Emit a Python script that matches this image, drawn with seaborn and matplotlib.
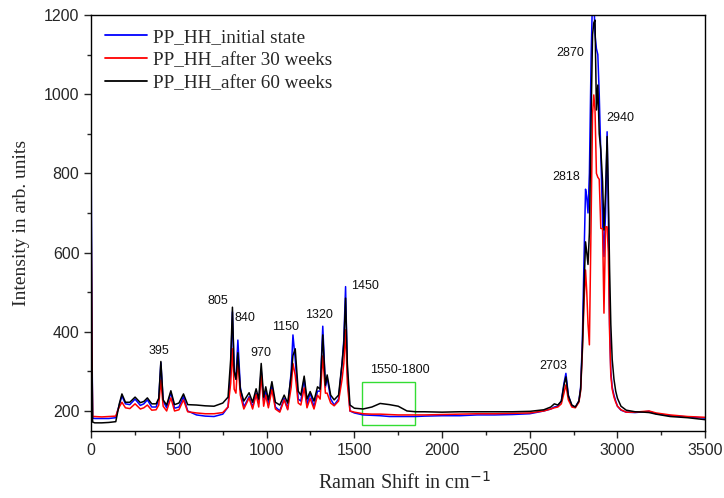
import numpy as np
import pandas as pd
import matplotlib
matplotlib.use("Agg")
import matplotlib.pyplot as plt
from matplotlib.patches import Rectangle
from matplotlib.ticker import MultipleLocator
import seaborn as sns

shift = [0, 4, 8, 20, 60, 100, 140, 150, 160, 175, 195, 220, 250, 280, 300, 320, 345, 370, 385, 397,
         410, 430, 454, 475, 500, 526, 550, 600, 650, 700, 750, 780, 795, 805, 815, 825, 836, 850, 870, 900,
         920, 940, 955, 969, 983, 995, 1010, 1030, 1050, 1075, 1100, 1120, 1140, 1150, 1163, 1180, 1195, 1214, 1230, 1248,
         1270, 1290, 1305, 1320, 1335, 1345, 1365, 1385, 1410, 1430, 1440, 1450, 1460, 1475, 1500, 1550, 1600, 1647, 1700, 1750,
         1800, 1850, 1900, 2000, 2100, 2200, 2300, 2400, 2500, 2580, 2620, 2640, 2660, 2680, 2695, 2706, 2720, 2740, 2760, 2780,
         2790, 2800, 2810, 2818, 2825, 2832, 2840, 2850, 2858, 2865, 2872, 2880, 2888, 2896, 2905, 2915, 2923, 2932, 2941, 2948,
         2955, 2962, 2970, 2980, 2990, 3000, 3020, 3050, 3100, 3150, 3180, 3220, 3300, 3400, 3500]

initial_state = [800, 400, 182, 181, 181, 181, 183, 200, 215, 238, 218, 216, 230, 214, 218, 228, 210, 210, 230, 322,
                 225, 208, 247, 207, 210, 236, 200, 190, 187, 186, 192, 210, 300, 450, 300, 280, 379, 260, 210, 236,
                 210, 245, 220, 303, 225, 250, 215, 265, 210, 200, 232, 205, 300, 392, 330, 230, 225, 282, 215, 246,
                 210, 250, 250, 414, 260, 285, 230, 215, 230, 320, 380, 514, 300, 200, 195, 190, 189, 188, 186, 186,
                 186, 186, 187, 188, 188, 190, 190, 191, 193, 200, 205, 210, 212, 225, 270, 295, 240, 212, 210, 225,
                 260, 380, 600, 760, 740, 700, 800, 1100, 1250, 1250, 1150, 1115, 1100, 1000, 850, 680, 590, 700, 905, 700,
                 420, 300, 260, 240, 225, 212, 202, 197, 196, 198, 199, 193, 188, 185, 182]

after_30_weeks = [640, 350, 186, 186, 185, 186, 187, 200, 210, 222, 208, 206, 218, 205, 208, 215, 202, 203, 215, 278,
                  212, 200, 233, 200, 203, 228, 198, 195, 193, 193, 196, 210, 270, 357, 255, 245, 329, 240, 205, 233,
                  205, 242, 210, 291, 212, 240, 208, 254, 205, 197, 228, 203, 260, 320, 290, 220, 215, 258, 208, 232,
                  205, 240, 230, 339, 245, 245, 220, 213, 225, 280, 320, 405, 270, 200, 197, 193, 192, 192, 191, 190,
                  190, 190, 190, 191, 192, 193, 193, 194, 195, 200, 205, 208, 210, 218, 245, 266, 228, 210, 208, 222,
                  250, 350, 480, 556, 500, 420, 367, 700, 950, 998, 960, 800, 790, 785, 661, 660, 447, 665, 665, 600,
                  400, 290, 255, 235, 222, 212, 203, 197, 197, 199, 200, 195, 190, 186, 184]

after_60_weeks = [700, 350, 172, 170, 170, 171, 173, 195, 218, 243, 222, 222, 235, 221, 224, 233, 218, 218, 232, 325,
                  228, 215, 251, 216, 220, 243, 216, 215, 213, 212, 220, 235, 330, 462, 300, 280, 347, 255, 225, 246,
                  222, 256, 230, 320, 235, 261, 228, 274, 222, 215, 240, 220, 290, 340, 357, 250, 240, 288, 230, 249,
                  225, 261, 255, 392, 265, 291, 240, 228, 240, 321, 370, 485, 320, 215, 207, 205, 210, 219, 216, 212,
                  200, 198, 198, 197, 198, 198, 198, 198, 199, 203, 210, 218, 215, 225, 265, 286, 238, 215, 210, 225,
                  255, 360, 520, 627, 600, 570, 650, 950, 1150, 1180, 1187, 960, 1023, 900, 860, 780, 657, 750, 893, 750,
                  560, 420, 330, 280, 250, 232, 212, 202, 198, 197, 196, 192, 186, 183, 178]

series_names = ["PP_HH_initial state", "PP_HH_after 30 weeks", "PP_HH_after 60 weeks"]
series_colors = ["#0000ff", "#ff0000", "#000000"]

peak_labels = ["395", "805", "840", "970", "1150", "1320", "1450", "1550-1800", "2703", "2818", "2870", "2940"]
peak_label_x = [388, 720, 878, 969, 1106, 1296, 1562, 1757, 2635, 2706, 2730, 3015]
peak_label_y = [352, 478, 434, 346, 411, 442, 516, 304, 314, 792, 1105, 941]

x_ticks = [0, 500, 1000, 1500, 2000, 2500, 3000, 3500]
y_ticks = [200, 400, 600, 800, 1000, 1200]

df = pd.concat([
    pd.DataFrame({"shift": shift, "intensity": vals, "series": name})
    for name, vals in zip(series_names, [initial_state, after_30_weeks, after_60_weeks])
], ignore_index=True)

sns.set_style("ticks")
plt.rcParams["font.family"] = ["Liberation Sans", "DejaVu Sans"]

fig = plt.figure(figsize=(7.24, 4.98), dpi=100)
ax = fig.add_axes([0.126, 0.135, 0.848, 0.835])

sns.lineplot(data=df, x="shift", y="intensity", hue="series", hue_order=series_names,
             palette=series_colors, linewidth=1.1, ax=ax, sort=False, estimator=None)

ax.set_xlim(0, 3500)
ax.set_ylim(150, 1200)
ax.set_xticks(x_ticks)
ax.set_yticks(y_ticks)
ax.xaxis.set_minor_locator(MultipleLocator(250))
ax.yaxis.set_minor_locator(MultipleLocator(100))
ax.tick_params(which="major", direction="out", length=5, width=1, labelsize=11.5,
               top=False, right=False)
ax.tick_params(which="minor", direction="out", length=3, width=1, top=False, right=False)
for s in ax.spines.values():
    s.set_visible(True)
    s.set_linewidth(1.0)
    s.set_color("black")

ax.set_xlabel("Raman Shift in cm$^{-1}$", family="Liberation Serif", fontsize=14.5)
ax.set_ylabel("Intensity in arb. units", family="Liberation Serif", fontsize=14)
ax.yaxis.set_label_coords(-0.100, 0.5)
ax.xaxis.set_label_coords(0.51, -0.098)

for lab, lx, ly in zip(peak_labels, peak_label_x, peak_label_y):
    ax.text(lx, ly, lab, ha="center", va="center", fontsize=9, color="#111111")

ax.add_patch(Rectangle((1543, 165), 300, 109, fill=False, edgecolor="#33dd33", linewidth=1.0))

leg = ax.legend(loc="upper left", frameon=False, prop={"family": "Liberation Serif", "size": 13.8},
                handlelength=2.2, handletextpad=0.3, labelspacing=0.3,
                borderaxespad=0.3, bbox_to_anchor=(0.0, 1.0))
for h in leg.get_lines():
    h.set_linewidth(1.3)

fig.savefig("out.png", dpi=100)
